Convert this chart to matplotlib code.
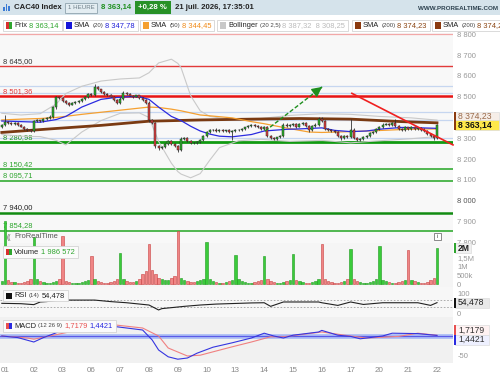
import matplotlib
matplotlib.use("Agg")
import matplotlib.pyplot as plt
from matplotlib.patches import Rectangle

plt.rcParams['font.family'] = ['Liberation Sans', 'DejaVu Sans']

# ---------------- data ----------------
day_labels = ['01', '02', '03', '06', '07', '08', '09', '10', '13', '14',
              '15', '16', '17', '20', '21', '22']
day_first_bar = [1, 10, 19, 28, 37, 46, 55, 64, 73, 82, 91, 100, 109, 118, 127, 136]

closes = [
    8362, 8378, 8375, 8368, 8372, 8362, 8356, 8345, 8340, 8336,
    8382, 8386, 8384, 8392, 8396, 8404, 8448, 8496, 8492, 8478,
    8470, 8462, 8468, 8474, 8478, 8488, 8500, 8512, 8508, 8548,
    8535, 8522, 8515, 8508, 8500, 8482, 8470, 8490, 8518, 8515,
    8505, 8500, 8506, 8494, 8486, 8470, 8386, 8372, 8262, 8252,
    8258, 8272, 8286, 8274, 8262, 8246, 8298, 8300, 8286, 8278,
    8276, 8284, 8292, 8312, 8330, 8338, 8342, 8336, 8340, 8334,
    8338, 8330, 8334, 8338, 8342, 8346, 8352, 8358, 8364, 8360,
    8354, 8346, 8352, 8312, 8300, 8296, 8304, 8312, 8366, 8360,
    8364, 8368, 8356, 8368, 8372, 8360, 8342, 8360, 8366, 8394,
    8382, 8346, 8340, 8334, 8330, 8312, 8300, 8310, 8304, 8342,
    8302, 8292, 8296, 8306, 8312, 8326, 8332, 8344, 8356, 8366,
    8370, 8362, 8374, 8360, 8346, 8340, 8352, 8344, 8354, 8346,
    8350, 8342, 8334, 8322, 8310, 8302, 8363.14,
]
first_open = 8355
opens = [first_open] + closes[:-1]

wick_hi = [
    6, 34, 5, 4, 6, 4, 5, 4, 3, 4,
    6, 5, 4, 5, 4, 6, 5, 6, 4, 5,
    4, 5, 4, 3, 4, 5, 4, 5, 6, 12,
    5, 4, 5, 4, 3, 4, 5, 6, 8, 5,
    4, 5, 4, 3, 4, 5, 8, 6, 5, 4,
    5, 4, 6, 5, 4, 5, 8, 5, 4, 5,
    4, 5, 4, 5, 6, 5, 4, 5, 4, 5,
    4, 5, 4, 5, 4, 5, 4, 5, 6, 4,
    5, 4, 6, 5, 4, 5, 4, 5, 6, 5,
    4, 5, 6, 5, 4, 5, 4, 5, 6, 8,
    6, 5, 4, 5, 4, 5, 4, 5, 4, 50,
    5, 4, 5, 4, 5, 4, 5, 4, 5, 6,
    5, 4, 6, 18, 5, 4, 5, 4, 5, 4,
    5, 4, 5, 4, 5, 4, 6,
]
wick_lo = [
    5, 4, 5, 6, 4, 5, 4, 5, 6, 4,
    5, 4, 5, 4, 5, 4, 6, 5, 4, 5,
    6, 5, 4, 5, 4, 5, 4, 5, 4, 5,
    4, 5, 6, 5, 4, 5, 6, 5, 4, 5,
    4, 5, 4, 5, 6, 5, 6, 5, 8, 10,
    5, 6, 5, 4, 6, 10, 5, 6, 5, 6,
    5, 4, 5, 4, 5, 4, 5, 4, 5, 4,
    5, 4, 40, 5, 4, 5, 4, 5, 4, 5,
    4, 5, 4, 6, 5, 6, 5, 4, 5, 4,
    5, 4, 5, 4, 5, 4, 14, 5, 4, 5,
    4, 5, 4, 5, 6, 5, 6, 5, 4, 5,
    6, 5, 4, 5, 4, 5, 4, 5, 4, 5,
    4, 5, 4, 5, 4, 5, 4, 5, 4, 5,
    4, 5, 4, 5, 6, 10, 5,
]

# volume in millions
volumes = [
    0.18, 3.5, 0.25, 0.14, 0.12, 0.1, 0.09, 0.12, 0.2, 0.3,
    2.6, 0.3, 0.2, 0.14, 0.1, 0.1, 0.14, 0.2, 0.3,
    2.65, 0.2, 0.14, 0.1, 0.09, 0.1, 0.12, 0.18, 0.25,
    1.55, 0.28, 0.18, 0.14, 0.1, 0.1, 0.14, 0.2, 0.28,
    1.7, 0.3, 0.2, 0.14, 0.14, 0.18, 0.3, 0.55, 0.75,
    2.2, 0.8, 0.55, 0.35, 0.3, 0.22, 0.25, 0.35, 0.45,
    2.9, 0.35, 0.25, 0.18, 0.14, 0.14, 0.2, 0.25, 0.3,
    2.3, 0.28, 0.2, 0.14, 0.1, 0.1, 0.14, 0.2, 0.25,
    1.6, 0.28, 0.18, 0.14, 0.1, 0.1, 0.14, 0.18, 0.25,
    1.55, 0.3, 0.2, 0.14, 0.1, 0.1, 0.14, 0.2, 0.25,
    1.67, 0.25, 0.18, 0.14, 0.1, 0.1, 0.14, 0.2, 0.28,
    2.2, 0.3, 0.2, 0.14, 0.1, 0.1, 0.14, 0.2, 0.28,
    1.95, 0.28, 0.2, 0.14, 0.1, 0.1, 0.14, 0.2, 0.28,
    2.1, 0.25, 0.18, 0.14, 0.1, 0.1, 0.14, 0.2, 0.25,
    1.9, 0.25, 0.18, 0.14, 0.1, 0.1, 0.14, 0.25, 0.35,
    1.986572,
]

sma20_x = [0, 6, 12, 17, 20, 25, 31, 35, 40, 43, 46, 49, 53, 56, 59, 62, 65, 68,
           72, 78, 82, 89, 93, 100, 104, 109, 114, 119, 125, 131, 136]
sma20_y = [8383, 8380, 8377, 8390, 8405, 8450, 8487, 8495, 8500, 8500, 8487, 8450,
           8405, 8385, 8358, 8335, 8320, 8310, 8307, 8318, 8335, 8343, 8345, 8350,
           8338, 8332, 8335, 8345, 8352, 8350, 8347.78]

sma50_x = [0, 6, 12, 17, 25, 31, 37, 43, 46, 49, 53, 56, 62, 65, 72, 78, 82, 88,
           96, 100, 109, 119, 125, 131, 136]
sma50_y = [8388, 8392, 8395, 8400, 8415, 8425, 8435, 8445, 8450, 8448, 8440, 8432,
           8412, 8408, 8398, 8380, 8370, 8352, 8330, 8328, 8332, 8338, 8342, 8345,
           8344.45]

sma200_x = [0, 15, 31, 46, 62, 78, 93, 109, 125, 136]
sma200_y = [8328, 8345, 8362, 8382, 8388, 8392, 8395, 8392, 8380, 8374.23]

boll_x = [0, 6, 12, 17, 20, 25, 31, 37, 43, 46, 49, 53, 55, 56, 59, 62, 65, 68,
          74, 81, 90, 100, 109, 118, 128, 136]
boll_up = [8420, 8412, 8418, 8465, 8515, 8550, 8575, 8585, 8590, 8615, 8662, 8680,
           8660, 8640, 8505, 8432, 8405, 8398, 8390, 8395, 8410, 8418, 8415, 8405,
           8398, 8387.32]
boll_lo = [8318, 8310, 8308, 8290, 8268, 8330, 8385, 8420, 8422, 8400, 8285, 8180,
           8140, 8128, 8110, 8130, 8195, 8255, 8288, 8295, 8285, 8290, 8278, 8288,
           8298, 8308.25]

rsi_x = [0, 6, 10, 12, 14, 18, 29, 34, 39, 46, 49, 50, 57, 62, 67, 78, 82, 84,
         88, 99, 100, 105, 109, 113, 119, 130, 134, 136]
rsi_y = [51, 49, 44, 58, 60, 68, 68, 60, 54, 42, 16, 23, 35, 42, 47, 53, 54, 35,
         58, 58, 54, 40, 58, 45, 54, 54, 40, 54.478]

macd_x = [0, 5, 10, 13, 17, 21, 26, 31, 35, 44, 47, 49, 52, 55, 58, 61, 66, 72,
          78, 82, 85, 88, 91, 99, 100, 105, 109, 112, 119, 122, 130, 136]
macd_y = [0, -4, -15, -4, 8, 25, 35, 32, 24, 15, -10, -35, -52, -58, -55, -43, -28,
          -17, -5, 7, 0, -5, 2, 10, 14, 2, -1, -7, 0, 7, 6, 1.4421]
signal_x = [0, 8, 10, 15, 21, 26, 31, 35, 44, 49, 52, 58, 62, 72, 78, 84, 88, 100,
            109, 114, 124, 130, 136]
signal_y = [0, -5, -8, 0, 10, 22, 28, 28, 20, 0, -30, -50, -48, -27, -15, -2, -2,
            10, 0, -5, -1, 7, 1.7179]

level_values = [8645.00, 8501.36, 8280.98, 8150.42, 8095.71, 7940.00, 7854.28]
level_texts = ['8 645,00', '8 501,36', '8 280,98', '8 150,42', '8 095,71', '7 940,00', '7 854,28']
guide_levels = [8800, 8551, 8516, 8428, 8388, 8303]
trend_up = [(82.3, 8335), (100.1, 8547)]
trend_down = [(109.4, 8516), (141.0, 8268)]

last_price = 8363.14
last_volume = 1986572

# ---------------- figure ----------------
W, H = 500, 375
fig = plt.figure(figsize=(W / 100, H / 100), dpi=100)
fig.patch.set_facecolor('white')
renderer = fig.canvas.get_renderer()

XL = (-0.5625, 141.0)


def add_ax(x0, y0, x1, y1, bg):
    a = fig.add_axes([x0 / W, 1 - y1 / H, (x1 - x0) / W, (y1 - y0) / H])
    a.set_facecolor(bg)
    for s in a.spines.values():
        s.set_visible(False)
    a.set_xlim(*XL)
    a.set_xticks([])
    a.yaxis.tick_right()
    a.tick_params(axis='y', length=0, pad=3, labelsize=5.5, labelcolor='#999999')
    return a


def px_rect(x, y, w, h, **kw):
    r = Rectangle((x / W, 1 - (y + h) / H), w / W, h / H, transform=fig.transFigure, **kw)
    fig.add_artist(r)
    return r


def ftext(x, y, s, **kw):
    return fig.text(x / W, 1 - y / H, s, **kw)


def text_run(x, y, parts, gap=2.0):
    for s, col, size, bold in parts:
        t = ftext(x, y, s, color=col, fontsize=size, fontweight='bold' if bold else 'normal',
                  va='center', ha='left', zorder=6)
        x += t.get_window_extent(renderer).width + gap
    return x


def legend_box(x, y, icons, parts, h=11, fc='white', ec='#D4D4D4'):
    iw = 6.0 / len(icons)
    for k, col in enumerate(icons):
        px_rect(x + 3 + k * iw, y - 3, iw, 6, facecolor=col, edgecolor='none', zorder=6)
    xe = text_run(x + 11, y, parts)
    px_rect(x, y - h / 2, xe - x + 1, h, facecolor=fc, edgecolor=ec, lw=0.6, zorder=5)
    return xe


def ypx(a, v):
    return H - a.transData.transform((0, v))[1]


def right_box(a, v, s, edge, fc='white', tc='#333333', bold=False, y=None, w=44):
    yy = ypx(a, v) if y is None else y
    px_rect(455, yy - 5, w, 10, facecolor=fc, edgecolor='#DDDDDD', lw=0.5, zorder=6)
    px_rect(454, yy - 5, 2, 10, facecolor=edge, edgecolor='none', zorder=7)
    ftext(458, yy, s, color=tc, fontsize=6.2, fontweight='bold' if bold else 'normal',
          va='center', ha='left', zorder=8)


# header
px_rect(0, 0, W, 15, facecolor='#D5E3EB', edgecolor='none', zorder=1)
for k, hh in enumerate([4, 7, 5]):
    px_rect(3 + k * 2.5, 11 - hh, 1.6, hh, facecolor='#3A7BD5', edgecolor='none', zorder=2)
HY = 7.5
xh = text_run(14, HY, [('CAC40 Index', '#222222', 5.6, True)], gap=0) + 3
t = ftext(xh + 3, HY, '1 HEURE', color='#6B7C86', fontsize=4.4, ha='left', va='center', zorder=3)
tw = t.get_window_extent(renderer).width
px_rect(xh, 2.5, tw + 6, 10, facecolor='#E3EDF2', edgecolor='#8FA3AE', lw=0.6, zorder=2)
xh = xh + tw + 10
xh = text_run(xh, HY, [('8 363,14', '#1F8F1F', 5.6, True)], gap=0) + 3
t = ftext(xh + 4, HY, '+0,28 %', color='white', fontsize=5.6, fontweight='bold',
          ha='left', va='center', zorder=3)
tw = t.get_window_extent(renderer).width
px_rect(xh, 1.5, tw + 8, 12, facecolor='#279127', edgecolor='none', zorder=2)
xh = xh + tw + 12
text_run(xh, HY, [('21 juil. 2026, 17:35:01', '#222222', 5.6, True)])
ftext(498, 9, 'WWW.PROREALTIME.COM', color='#2E4250', fontsize=4.5, fontweight='bold',
      ha='right', va='center', zorder=3)

# legend row
LY = 25.5
FS = 5.4
legend_box(3, LY, ['#D93030', '#2EA52E'], [('Prix', '#222222', FS, False),
                                           ('8 363,14', '#2EA52E', FS, False)])
legend_box(63, LY, ['#1515D8'], [('SMA', '#222222', FS, False), ('(20)', '#444444', 4.3, False),
                                 ('8 347,78', '#1F1FD8', FS, False)])
legend_box(140, LY, ['#F5A030'], [('SMA', '#222222', FS, False), ('(50)', '#444444', 4.3, False),
                                  ('8 344,45', '#F08A18', FS, False)])
legend_box(217, LY, ['#C8C8C8'], [('Bollinger', '#222222', FS, False),
                                  ('(20 2,5)', '#444444', 4.3, False),
                                  ('8 387,32  8 308,25', '#BBBBBB', FS, False)])
legend_box(352, LY, ['#8B3A0F'], [('SMA', '#222222', FS, False), ('(200)', '#444444', 4.3, False),
                                  ('8 374,23', '#8B4513', FS, False)])
legend_box(432, LY, ['#8B3A0F'], [('SMA', '#222222', FS, False), ('(200)', '#444444', 4.3, False),
                                  ('8 374,2', '#8B4513', FS, False)])

# ---------------- price panel ----------------
ax = add_ax(0, 33, 453, 243, '#F8F8F8')
ax.set_ylim(7796.6, 8806)
ticks = [t for t in range(7800, 8801, 100) if t != 8400]
ax.set_yticks(ticks)
ax.set_yticklabels(['{} {:03d}'.format(t // 1000, t % 1000) for t in ticks])
for lab in ax.get_yticklabels():
    if lab.get_text() == '8 000':
        lab.set_color('#555555')

for g in guide_levels:
    col = '#F2A8A8' if g == 8800 else '#C6D6F0'
    ax.axhline(g, color=col, lw=0.9, zorder=1)

level_cols = ['#E23A3A', '#E81414', '#119A11', '#22A522', '#22A522', '#128C12', '#22A522']
level_lws = [1.0, 1.8, 2.0, 1.1, 1.1, 1.8, 1.1]
text_cols = ['#333333', '#E23A3A', '#1E8F1E', '#2EA52E', '#2EA52E', '#222222', '#2EA52E']
for v, s, lc, lw, tc in zip(level_values, level_texts, level_cols, level_lws, text_cols):
    ax.axhline(v, color=lc, lw=lw, zorder=2)
    ax.annotate(s, xy=(0.006, v), xycoords=('axes fraction', 'data'), xytext=(0, 1.2),
                textcoords='offset points', va='bottom', ha='left', fontsize=5.4, color=tc,
                zorder=3)

ax.plot(boll_x, boll_up, color='#C9C9C9', lw=0.8, zorder=3)
ax.plot(boll_x, boll_lo, color='#C9C9C9', lw=0.8, zorder=3)
ax.plot(sma200_x, sma200_y, color='#7A3A12', lw=2.0, zorder=3)
ax.plot(sma50_x, sma50_y, color='#F5A030', lw=0.9, zorder=3)
ax.plot(sma20_x, sma20_y, color='#2B2BE0', lw=0.9, zorder=3)

idx = list(range(len(closes)))
highs = [max(o, c) + u for o, c, u in zip(opens, closes, wick_hi)]
lows = [min(o, c) - d for o, c, d in zip(opens, closes, wick_lo)]
up = [c >= o for o, c in zip(opens, closes)]
ax.vlines(idx, lows, highs, color='#333333', lw=0.6, zorder=4)
ax.bar(idx, [max(abs(c - o), 1.5) for o, c in zip(opens, closes)],
       bottom=[min(o, c) for o, c in zip(opens, closes)], width=0.62,
       color=['#2BB52B' if u else '#E04040' for u in up], edgecolor='#222222',
       linewidth=0.35, zorder=5)

ax.plot([trend_up[0][0], trend_up[1][0]], [trend_up[0][1], trend_up[1][1]],
        color='#1E8F1E', lw=1.0, ls=(0, (3, 1.5)), zorder=6)
ax.annotate('', xy=trend_up[1], xytext=(trend_up[1][0] - 1.2, trend_up[1][1] - 14),
            arrowprops=dict(arrowstyle='-|>,head_length=0.6,head_width=0.3',
                            color='#1E8F1E', lw=1.0), zorder=6)
ax.plot([trend_down[0][0], trend_down[1][0]], [trend_down[0][1], trend_down[1][1]],
        color='#F02020', lw=1.2, zorder=6, clip_on=False)

ftext(14, 237, 'ProRealTime', color='#555555', fontsize=5.4, va='center', zorder=7)
ftext(9, 237.5, '((', color='#666666', fontsize=5, va='center', ha='center', zorder=7)
px_rect(434, 233, 7, 7, facecolor='white', edgecolor='#777777', lw=0.6, zorder=7)
ftext(437.5, 236.5, 'i', color='#555555', fontsize=4.6, ha='center', va='center', zorder=8)

right_box(ax, 0, '8 374,23', '#8B3A0F', fc='#F6EEE8', tc='#9A6A4A', y=116.5)
right_box(ax, last_price, '8 363,14', '#8B3A0F', fc='#FFE94A', tc='#111111', bold=True)

# ---------------- volume panel ----------------
av = add_ax(0, 243, 453, 287, '#F5F5F5')
av.set_ylim(-0.137, 2.27)
av.set_yticks([0, 0.5, 1, 1.5])
av.set_yticklabels(['0', '500k', '1M', '1,5M'])
av.bar(idx, volumes, width=0.72,
       color=['#3ACB3A' if u else '#F08585' for u in up],
       edgecolor=['#1E9A1E' if u else '#C84040' for u in up],
       linewidth=0.4, clip_on=False, zorder=3)
right_box(av, last_volume / 1e6, '2M', '#2EA52E', fc='#F0F0F0', tc='#222222', bold=True, w=16)
legend_box(3, 252, ['#D93030', '#2EA52E'], [('Volume', '#222222', FS, False),
                                             ('1 986 572', '#2EA52E', FS, False)],
           h=12, fc='#FBFBFB')

# ---------------- RSI panel ----------------
ar = add_ax(0, 287, 453, 317, '#F7F7F7')
ar.set_ylim(-21, 136.8)
ar.set_yticks([0, 100])
ar.set_yticklabels(['0', '100'])
for lvl in (70, 30):
    ar.axhline(lvl, color='#A0A0A0', lw=0.6, ls=(0, (2, 2)), zorder=1)
ar.plot(rsi_x, rsi_y, color='#222222', lw=0.8, zorder=3)
right_box(ar, rsi_y[-1], '54,478', '#111111', fc='#E8E8E8', tc='#222222', w=34)
legend_box(3, 295.5, ['#111111'], [('RSI', '#222222', FS, False), ('(14)', '#444444', 4.3, False),
                                   ('54,478', '#222222', FS, False)], h=11, fc='#FBFBFB')

# ---------------- MACD panel ----------------
am = add_ax(0, 317, 453, 363, '#F1F1F1')
am.set_ylim(-67.5, 47.5)
am.set_yticks([-50])
am.set_yticklabels(['-50'])
am.axhline(0, color='#AFC0F5', lw=3.5, zorder=1)
am.axhline(0, color='#5A5AE8', lw=0.9, zorder=2)
am.plot(signal_x, signal_y, color='#F08080', lw=0.8, zorder=3)
am.plot(macd_x, macd_y, color='#3535E0', lw=0.8, zorder=4)
right_box(am, 0, '1,7179', '#E85050', fc='#FFF2F2', tc='#333333', y=330, w=34)
right_box(am, 0, '1,4421', '#2A2AE0', fc='#EEF0FF', tc='#333333', y=339.5, w=34)
legend_box(3, 326, ['#E85050', '#2A2AE0'], [('MACD', '#222222', FS, False),
                                             ('(12 26 9)', '#444444', 4.3, False),
                                             ('1,7179', '#E85050', FS, False),
                                             ('1,4421', '#2A2AE0', FS, False)],
           h=12, fc='#FBFBFB')

am.set_xticks(day_first_bar)
am.set_xticklabels(day_labels)
am.tick_params(axis='x', length=0, pad=3, labelsize=5.8, labelcolor='#888888')

fig.savefig('out.png', dpi=100, facecolor=fig.get_facecolor())
